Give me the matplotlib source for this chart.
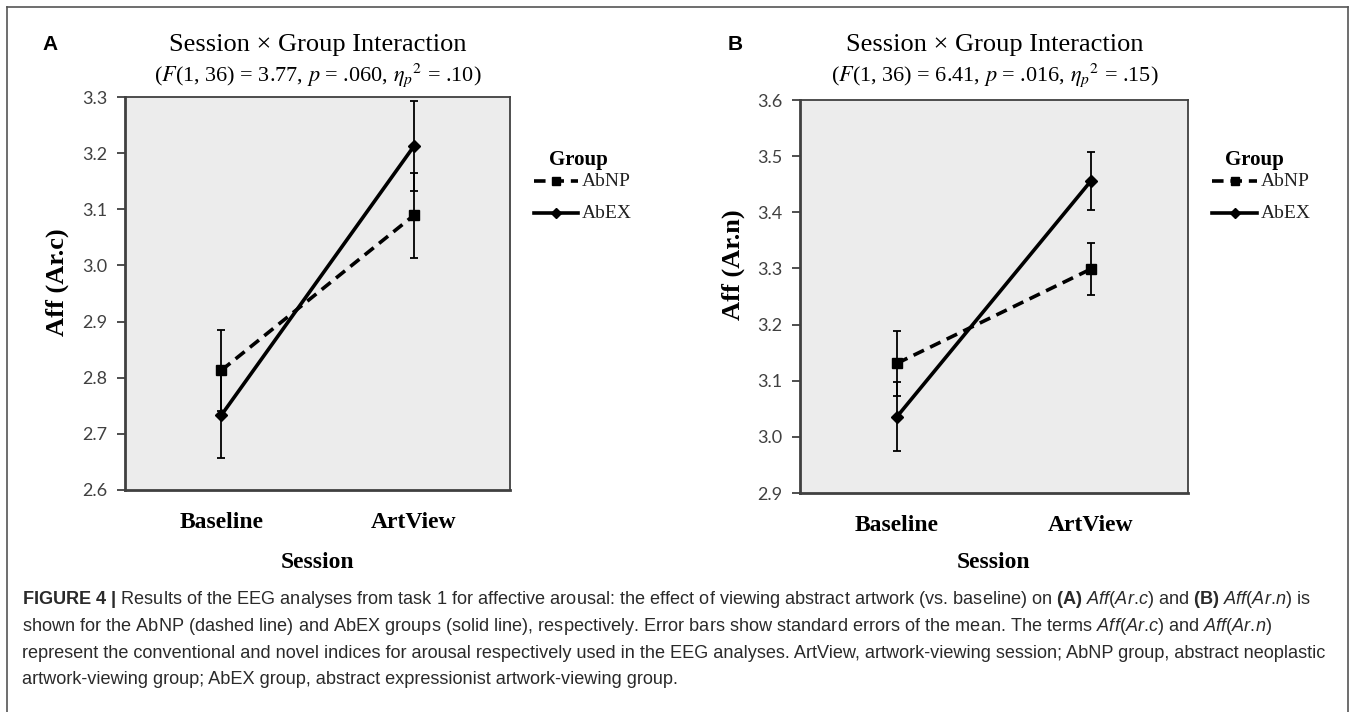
import matplotlib
matplotlib.use("Agg")
import matplotlib.pyplot as plt
from matplotlib.lines import Line2D

# ---------------- data ----------------
sessions = ["Baseline", "ArtView"]
groups = ["AbNP", "AbEX"]

a_abnp = [2.813, 3.089]
a_abnp_se = [0.072, 0.075]
a_abex = [2.733, 3.212]
a_abex_se = [0.076, 0.080]

b_abnp = [3.131, 3.299]
b_abnp_se = [0.058, 0.047]
b_abex = [3.036, 3.456]
b_abex_se = [0.061, 0.052]

a_yticks = [2.6, 2.7, 2.8, 2.9, 3.0, 3.1, 3.2, 3.3]
b_yticks = [2.9, 3.0, 3.1, 3.2, 3.3, 3.4, 3.5, 3.6]

a_ylabel = "Aff (Ar.c)"
b_ylabel = "Aff (Ar.n)"
title1 = "Session \u00d7 Group Interaction"
a_title2 = r"($F$(1, 36) = 3.77, $p$ = .060, $\eta_p{}^{\mathit{2}}$ = .10)"
b_title2 = r"($F$(1, 36) = 6.41, $p$ = .016, $\eta_p{}^{\mathit{2}}$ = .15)"

caption_lines = [
    r"$\mathbf{FIGURE\ 4\ |}$ Results of the EEG analyses from task 1 for affective arousal: the effect of viewing abstract artwork (vs. baseline) on $\mathbf{(A)}$ $\mathit{Aff}$($\mathit{Ar}$.$\mathit{c}$) and $\mathbf{(B)}$ $\mathit{Aff}$($\mathit{Ar}$.$\mathit{n}$) is",
    r"shown for the AbNP (dashed line) and AbEX groups (solid line), respectively. Error bars show standard errors of the mean. The terms $\mathit{Aff}$($\mathit{Ar}$.$\mathit{c}$) and $\mathit{Aff}$($\mathit{Ar}$.$\mathit{n}$)",
    "represent the conventional and novel indices for arousal respectively used in the EEG analyses. ArtView, artwork-viewing session; AbNP group, abstract neoplastic",
    "artwork-viewing group; AbEX group, abstract expressionist artwork-viewing group.",
]

# ---------------- style ----------------
plt.rcParams["mathtext.fontset"] = "custom"
plt.rcParams["mathtext.rm"] = "Liberation Sans"
plt.rcParams["mathtext.it"] = "Liberation Sans:italic"
plt.rcParams["mathtext.bf"] = "Liberation Sans:bold"

W, H = 1355, 712
fig = plt.figure(figsize=(W / 100, H / 100), dpi=100)
fig.patch.set_facecolor("white")

SERIF = "Liberation Serif"
AXC = "#404040"


def fx(x):
    return x / W


def fy(y):
    return 1 - y / H


def px_axes(l, r, t, b):
    return fig.add_axes([l / W, 1 - b / H, (r - l) / W, (b - t) / H])


def draw_panel(box, abnp, abnp_se, abex, abex_se, yticks, ylabel, ylab_xy,
               letter, letter_xy, title_x, title2, leg):
    ax = px_axes(*box)
    ax.set_facecolor("#ececec")
    x = list(range(len(sessions)))
    for vals, se in ((abnp, abnp_se), (abex, abex_se)):
        ax.errorbar(x, vals, yerr=se, fmt="none", ecolor="black",
                    elinewidth=1.3, capsize=3.2, capthick=1.3, zorder=3)
    ax.plot(x, abnp, color="black", lw=2.6, ls=(0, (3.2, 1.9)),
            marker="s", ms=7, zorder=4)
    ax.plot(x, abex, color="black", lw=2.6, ls="-",
            marker="D", ms=6, zorder=4)
    ax.set_xlim(-0.5, 1.5)
    ax.set_ylim(yticks[0], yticks[-1])
    ax.set_yticks(yticks)
    ax.set_yticklabels([f"{v:.1f}" for v in yticks], family="Lato",
                       fontsize=13, color=AXC)
    ax.set_xticks(x)
    ax.set_xticklabels(sessions, family=SERIF, fontweight="bold", fontsize=17)
    ax.tick_params(axis="x", length=0, pad=16)
    ax.tick_params(axis="y", length=6, width=1.3, color=AXC, pad=7,
                   direction="out")
    for s in ax.spines.values():
        s.set_color(AXC)
        s.set_linewidth(1.3)
    ax.spines["left"].set_linewidth(2.0)
    ax.spines["bottom"].set_linewidth(2.0)

    l, r, t, b = box
    cx = (l + r) / 2
    fig.text(fx(cx), fy(562), "Session", ha="center", va="center",
             family=SERIF, fontweight="bold", fontsize=17)
    fig.text(fx(ylab_xy[0]), fy(ylab_xy[1]), ylabel, rotation=90,
             ha="center", va="center", family=SERIF, fontweight="bold",
             fontsize=19)
    fig.text(fx(letter_xy[0]), fy(letter_xy[1]), letter, ha="center",
             va="center", family="Liberation Sans", fontweight="bold",
             fontsize=15)
    fig.text(fx(title_x), fy(45), title1, ha="center", va="center",
             family=SERIF, fontsize=19)
    fig.text(fx(title_x), fy(75), title2, ha="center", va="center",
             family=SERIF, fontsize=16, math_fontfamily="stix")

    # legend (manual)
    gx, gy, lx1, lx2, ys = leg
    fig.text(fx(gx), fy(gy), "Group", ha="left", va="center", family=SERIF,
             fontweight="bold", fontsize=15)
    styles = [((0, (3.2, 1.9)), "s", 6), ("-", "D", 5)]
    for (ls, mk, ms), yy, name in zip(styles, ys, groups):
        fig.add_artist(Line2D([fx(lx1), fx(lx2)], [fy(yy), fy(yy)],
                              transform=fig.transFigure, color="black",
                              lw=2.6, ls=ls))
        fig.add_artist(Line2D([fx((lx1 + lx2) / 2)], [fy(yy)],
                              transform=fig.transFigure, color="black",
                              marker=mk, ms=ms, ls="none"))
        fig.text(fx(lx2 + 4), fy(yy), name, ha="left", va="center",
                 family=SERIF, fontsize=14, color="#202020")
    return ax


draw_panel((125, 510, 97, 490), a_abnp, a_abnp_se, a_abex, a_abex_se,
           a_yticks, a_ylabel, (57, 282), "A", (50, 45), 318, a_title2,
           (549, 160, 534, 578, (181, 213)))
draw_panel((800, 1188, 100, 493), b_abnp, b_abnp_se, b_abex, b_abex_se,
           b_yticks, b_ylabel, (733, 265), "B", (735, 45), 995, b_title2,
           (1225, 160, 1212, 1257, (181, 213)))

# caption
for i, line in enumerate(caption_lines):
    fig.text(fx(22), fy(600 + 26.5 * i), line, ha="left", va="center",
             family="Liberation Sans", fontsize=13.1, color="#2a2a2a")

# figure frame (left, top, right)
frame_c = "#555555"
for xs, ys in (([7, 1348], [7, 7]), ([7, 7], [7, 712]),
               ([1348, 1348], [7, 712])):
    fig.add_artist(Line2D([fx(v) for v in xs], [fy(v) for v in ys],
                          transform=fig.transFigure, color=frame_c, lw=1.2))

fig.savefig("out.png", dpi=100)
